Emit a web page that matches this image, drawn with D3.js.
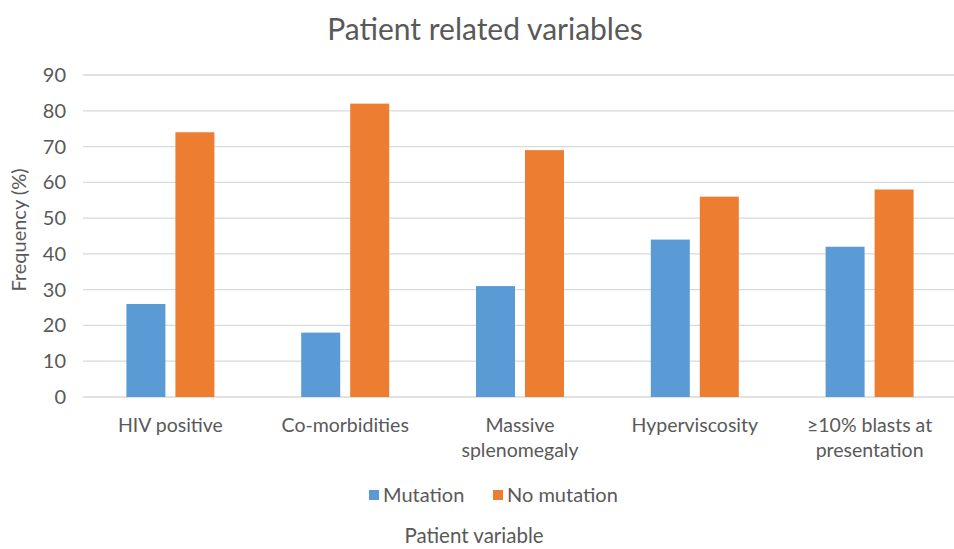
<!DOCTYPE html>
<html>
<head>
<meta charset="utf-8">
<script src="https://cdn.jsdelivr.net/npm/d3@7"></script>
<style>
  body { margin: 0; background: #fff; }
  text { font-family: Lato, "Open Sans", sans-serif; fill: #595959; }
</style>
</head>
<body>
<div id="chart"></div>
<script>
// Chart data
const categories = [
  ["HIV positive"],
  ["Co-morbidities"],
  ["Massive", "splenomegaly"],
  ["Hyperviscosity"],
  ["\u226510% blasts at", "presentation"]
];
const seriesNames = ["Mutation", "No mutation"];
const mutation = [26, 18, 31, 44, 42];
const noMutation = [74, 82, 69, 56, 58];
const yTicks = [0, 10, 20, 30, 40, 50, 60, 70, 80, 90];

const colors = ["#5B9BD5", "#ED7D31"];

const width = 954;
const height = 549;
const margin = {left: 83, right: -3, top: 75, bottom: 152};

const svg = d3.select("#chart")
  .append("svg")
  .attr("width", width)
  .attr("height", height);

// Scales
const yScale = d3.scaleLinear()
  .domain([0, 90])
  .range([height - margin.bottom, margin.top]);

const xScale = d3.scaleBand()
  .domain(d3.range(categories.length))
  .range([margin.left, width - margin.right]);

// inner scale for the two bars of a group
const outer = (xScale.bandwidth() - 88) / 2;
const xInner = d3.scaleBand()
  .domain(d3.range(seriesNames.length))
  .range([outer, outer + 88])
  .paddingInner(0.2041);

// Gridlines
svg.append("g")
  .selectAll("line")
  .data(yTicks)
  .enter()
  .append("line")
    .attr("x1", margin.left)
    .attr("x2", width)
    .attr("y1", d => yScale(d))
    .attr("y2", d => yScale(d))
    .attr("stroke", "#d9d9d9")
    .attr("stroke-width", 1.3);

// Y axis labels
svg.append("g")
  .selectAll("text")
  .data(yTicks)
  .enter()
  .append("text")
    .attr("x", 66)
    .attr("y", d => yScale(d))
    .attr("dy", "0.35em")
    .attr("text-anchor", "end")
    .attr("font-size", "20px")
    .text(d => d);

// Bars
const allSeries = [mutation, noMutation];
const groups = svg.append("g")
  .selectAll("g")
  .data(categories.map((c, i) => i))
  .enter()
  .append("g")
    .attr("transform", i => `translate(${xScale(i)},0)`);

groups.selectAll("rect")
  .data(i => allSeries.map((s, k) => ({k: k, v: s[i]})))
  .enter()
  .append("rect")
    .attr("x", d => xInner(d.k))
    .attr("y", d => yScale(d.v))
    .attr("width", xInner.bandwidth())
    .attr("height", d => yScale(0) - yScale(d.v))
    .attr("fill", d => colors[d.k]);

// Category labels
const catLabels = svg.append("g")
  .selectAll("text")
  .data(categories)
  .enter()
  .append("text")
    .attr("x", (d, i) => xScale(i) + xScale.bandwidth() / 2)
    .attr("y", 432)
    .attr("text-anchor", "middle")
    .attr("font-size", "19.5px");

catLabels.selectAll("tspan")
  .data(d => d)
  .enter()
  .append("tspan")
    .attr("x", function() { return this.parentNode.getAttribute("x"); })
    .attr("dy", (d, i) => i === 0 ? 0 : 25)
    .text(d => d);

// Title
svg.append("text")
  .attr("x", 485)
  .attr("y", 40)
  .attr("text-anchor", "middle")
  .attr("font-size", "30px")
  .text("Patient related variables");

// Y axis title
svg.append("text")
  .attr("transform", "translate(26,230) rotate(-90)")
  .attr("text-anchor", "middle")
  .attr("font-size", "20px")
  .text("Frequency (%)");

// X axis title
svg.append("text")
  .attr("x", 474)
  .attr("y", 543)
  .attr("text-anchor", "middle")
  .attr("font-size", "20.5px")
  .text("Patient variable");

// Legend
const legendX = [369, 493];
const legend = svg.append("g")
  .selectAll("g")
  .data(seriesNames)
  .enter()
  .append("g")
    .attr("transform", (d, i) => `translate(${legendX[i]},495)`);

legend.append("rect")
  .attr("x", 0)
  .attr("y", -5)
  .attr("width", 10)
  .attr("height", 10)
  .attr("fill", (d, i) => colors[i]);

legend.append("text")
  .attr("x", 14)
  .attr("y", 0)
  .attr("dy", "0.35em")
  .attr("font-size", "20px")
  .text(d => d);
</script>
</body>
</html>
